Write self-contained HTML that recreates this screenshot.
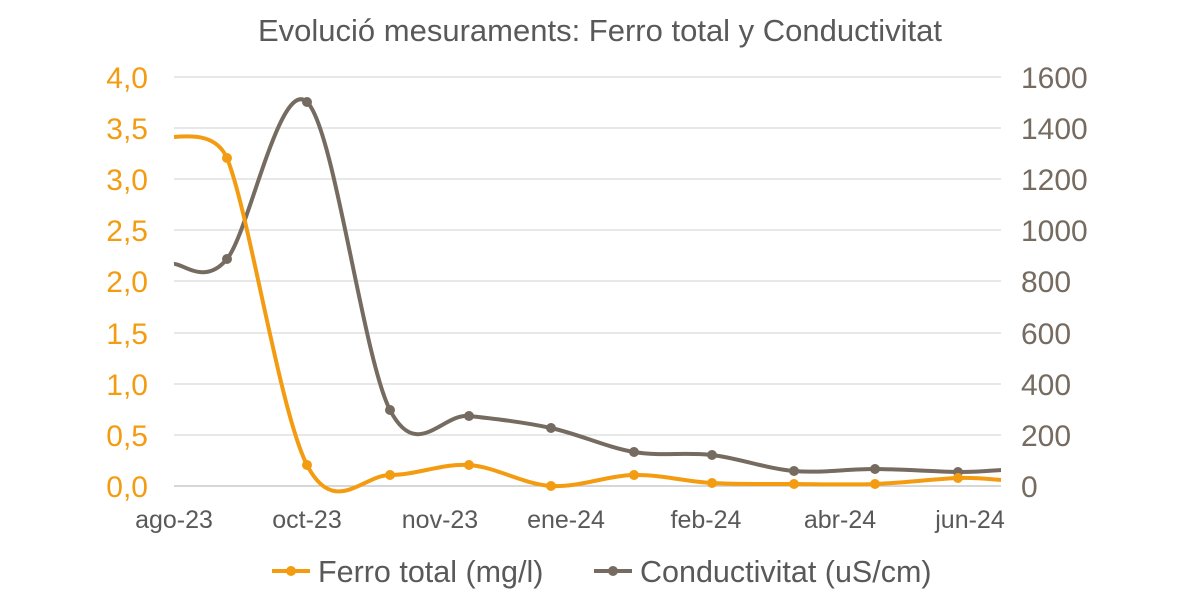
<!DOCTYPE html>
<html><head><meta charset="utf-8"><style>
html,body{margin:0;padding:0;background:#fff;}
svg{display:block;font-family:"Liberation Sans",Arial,sans-serif;}
</style></head><body>
<svg id="c" width="1200" height="600" viewBox="0 0 1200 600">
<rect width="1200" height="600" fill="#fff"/>
<text x="600" y="41" text-anchor="middle" font-size="31" fill="#595959">Evolució mesuraments: Ferro total y Conductivitat</text>
<g stroke="#d9d9d9" stroke-width="1.3">
<line x1="174" x2="1001" y1="77" y2="77"/><line x1="174" x2="1001" y1="128" y2="128"/>
<line x1="174" x2="1001" y1="179" y2="179"/><line x1="174" x2="1001" y1="230" y2="230"/>
<line x1="174" x2="1001" y1="281" y2="281"/><line x1="174" x2="1001" y1="333" y2="333"/>
<line x1="174" x2="1001" y1="384" y2="384"/><line x1="174" x2="1001" y1="435" y2="435"/>
</g>
<line x1="174" x2="1001" y1="486" y2="486" stroke="#bfbfbf" stroke-width="1.3"/>
<g fill="#F39C12" font-size="30" text-anchor="end">
<text x="148" y="88">4,0</text><text x="148" y="139">3,5</text><text x="148" y="190">3,0</text>
<text x="148" y="241">2,5</text><text x="148" y="292">2,0</text><text x="148" y="344">1,5</text>
<text x="148" y="395">1,0</text><text x="148" y="446">0,5</text><text x="148" y="497">0,0</text>
</g>
<g fill="#756B60" font-size="30">
<text x="1021" y="88">1600</text><text x="1021" y="139">1400</text><text x="1021" y="190">1200</text>
<text x="1021" y="241">1000</text><text x="1021" y="292">800</text><text x="1021" y="344">600</text>
<text x="1021" y="395">400</text><text x="1021" y="446">200</text><text x="1021" y="497">0</text>
</g>
<g fill="#595959" font-size="25" text-anchor="middle">
<text x="174" y="528">ago-23</text><text x="307" y="528">oct-23</text><text x="440" y="528">nov-23</text>
<text x="566" y="528">ene-24</text><text x="706" y="528">feb-24</text><text x="840" y="528">abr-24</text>
<text x="970" y="528">jun-24</text>
</g>
<path id="pc" fill="none" stroke="#756B60" stroke-width="4"/>
<path id="pf" fill="none" stroke="#F39C12" stroke-width="4"/>
<g id="mc" fill="#756B60"></g>
<g id="mf" fill="#F39C12"></g>
<line x1="272" x2="310" y1="571" y2="571" stroke="#F39C12" stroke-width="4"/>
<circle cx="291" cy="571" r="5" fill="#F39C12"/>
<text x="318" y="582" font-size="30.5" fill="#595959">Ferro total (mg/l)</text>
<line x1="594" x2="632" y1="571" y2="571" stroke="#756B60" stroke-width="4"/>
<circle cx="613" cy="571" r="5" fill="#756B60"/>
<text x="640" y="582" font-size="30.5" fill="#595959">Conductivitat (uS/cm)</text>
</svg>
<script>
function sm(p,first){var d="M"+p[0][0]+","+p[0][1];for(var i=0;i<p.length-1;i++){var a=p[i-1]||p[i],b=p[i],c=p[i+1],e=p[i+2]||c;var t=6;
if(i==0&&first){d+=" "+first;continue;}
d+=" C"+(b[0]+(c[0]-a[0])/t)+","+(b[1]+(c[1]-a[1])/t)+" "+(c[0]-(e[0]-b[0])/t)+","+(c[1]-(e[1]-b[1])/t)+" "+c[0]+","+c[1];}return d;}
var F=[[174,137],[227,158],[307,465],[390,475],[469,465],[551,486],[634,475],[712,483],[794,484],[875,484],[958,478],[1001,480]];
var C=[[174,264],[227,259],[307,102],[390,410],[469,416],[551,428],[634,452],[712,455],[794,471],[875,469],[958,472],[1001,470]];
document.getElementById("pf").setAttribute("d",sm(F,"C196,135 217,136 227,158"));
document.getElementById("pc").setAttribute("d",sm(C));
function mk(id,p){var g=document.getElementById(id);for(var i=1;i<p.length-1;i++){var c=document.createElementNS("http://www.w3.org/2000/svg","circle");c.setAttribute("cx",p[i][0]);c.setAttribute("cy",p[i][1]);c.setAttribute("r",5);g.appendChild(c);}}
mk("mc",C);mk("mf",F);
</script>
</body></html>
